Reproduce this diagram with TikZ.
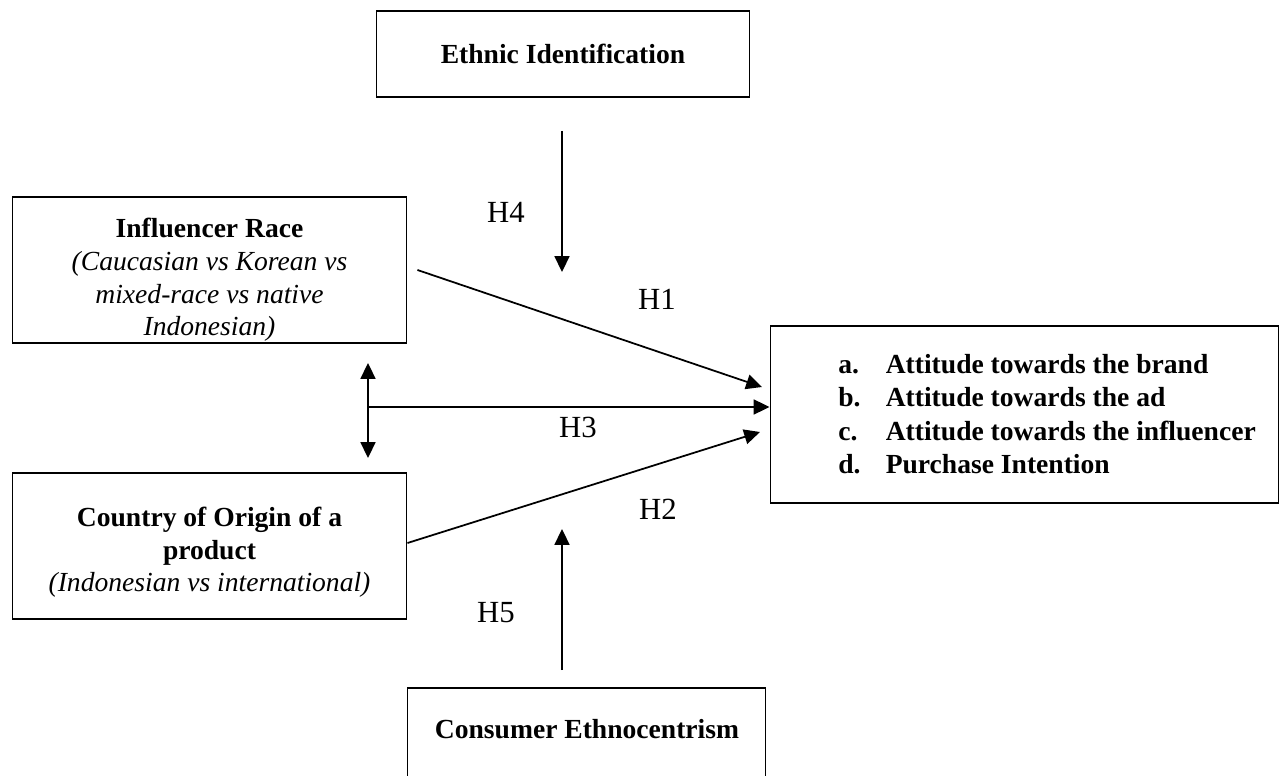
\documentclass[tikz,border=0pt]{standalone}
\usepackage{fontspec}
\setmainfont{Liberation Serif}
\usetikzlibrary{arrows.meta}

\tikzset{
  box/.style={draw, line width=0.6pt, inner sep=0pt},
  txt/.style={inner sep=0pt, align=center, font=\fontsize{15.7}{18.6}\selectfont\bfseries},
  lst/.style={inner sep=0pt, font=\fontsize{15.7}{19}\selectfont\bfseries},
  conn/.style={line width=1pt, -{Triangle[length=9pt,width=8.5pt]}},
  both/.style={line width=1pt, {Triangle[length=9pt,width=8.5pt]}-{Triangle[length=9pt,width=8.5pt]}},
  hyp/.style={inner sep=0pt, font=\fontsize{17.5}{20}\selectfont},
}

\begin{document}
\begin{tikzpicture}[x=0.02cm,y=-0.02cm]
%frame
\useasboundingbox (0,0) rectangle (1285,776);
%boxes
\node[box, minimum width=7.48cm, minimum height=1.72cm] (eth) at (563,54) {};
\node[txt] (ethtext) at (563,54) {Ethnic Identification};
\node[box, minimum width=7.9cm, minimum height=2.92cm] (infl) at (209.5,270) {};
\node[txt] (infltext) at (209.5,280) {Influencer Race\\ {\mdseries\itshape (Caucasian vs Korean vs}\\
  {\mdseries\itshape mixed-race vs native}\\ {\mdseries\itshape Indonesian)}};
\node[box, minimum width=7.9cm, minimum height=2.92cm] (cty) at (209.5,546) {};
\node[txt] (ctytext) at (209.5,552.5) {Country of Origin of a\\ product\\
  {\mdseries\itshape (Indonesian vs international)}};
\node[box, minimum width=10.18cm, minimum height=3.54cm] (outc) at (1024.5,414.5) {};
\node[lst, anchor=west] (outtext) at (838,417) {\begin{tabular}{@{}p{27pt}@{}l@{}}
a. & Attitude towards the brand\\
b. & Attitude towards the ad\\
c. & Attitude towards the influencer\\
d. & Purchase Intention
\end{tabular}};
\node[box, minimum width=7.18cm, minimum height=1.84cm] (cons) at (586.5,734) {};
\node[txt] (constext) at (587,729) {Consumer Ethnocentrism};
%arrows
\coordinate (eths) at (562,131);
\coordinate (ethe) at (562,272);
\coordinate (h1e) at (762,387);
\coordinate (h2e) at (760,432);
\coordinate (mid) at (368,407);
\coordinate (dtop) at (368,363);
\coordinate (dbot) at (368,458);
\coordinate (conss) at (562,670);
\coordinate (conse) at (562,529);
\draw[conn] (eths)--(ethe);
\draw[conn] ([xshift=0.2cm]infl.east)--(h1e);
\draw[conn] ([yshift=0.06cm]cty.east)--(h2e);
\draw[conn] (mid)--(outc.west |- mid);
\draw[both] (dtop)--(dbot);
\draw[conn] (conss)--(conse);
%labels
\node[hyp] (h4) at (506,212) {H4};
\node[hyp] (h1) at (657,299) {H1};
\node[hyp] (h3) at (578,427) {H3};
\node[hyp] (h2) at (658,509) {H2};
\node[hyp] (h5) at (496,613) {H5};
\end{tikzpicture}
\end{document}
